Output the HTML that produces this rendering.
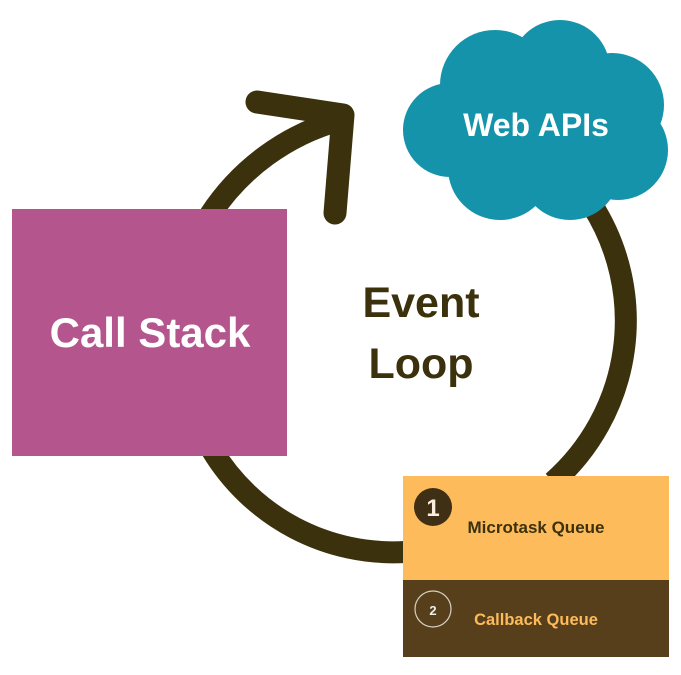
<!DOCTYPE html>
<html><head><style>
body{margin:0;width:681px;height:670px;background:#fff;overflow:hidden;font-family:"Liberation Sans",sans-serif}
</style></head><body>
<svg width="681" height="670" xmlns="http://www.w3.org/2000/svg">
<g fill="none" stroke="#3b310d" stroke-width="22">
<path d="M 340 120 A 228 228 0 0 0 210 215"/>
<path d="M 212 450 A 212 212 0 0 0 405 552"/>
<path d="M 592 205 A 215 215 0 0 1 553 482"/>
</g>
<path d="M 257 102 L 343 115 L 335 213" fill="none" stroke="#3b310d" stroke-width="23" stroke-linecap="round" stroke-linejoin="round"/>
<g fill="#1593aa">
<circle cx="495" cy="85" r="55"/>
<circle cx="560" cy="70" r="50"/>
<circle cx="612" cy="105" r="52"/>
<circle cx="450" cy="130" r="47"/>
<circle cx="618" cy="150" r="50"/>
<circle cx="500" cy="168" r="52"/>
<circle cx="570" cy="170" r="50"/>
<rect x="470" y="90" width="150" height="100"/>
</g>
<text x="536" y="136" text-anchor="middle" font-size="32" font-weight="bold" fill="#fff">Web APIs</text>
<rect x="12" y="209" width="275" height="247" fill="#b5558e"/>
<text x="150" y="347" text-anchor="middle" font-size="42" font-weight="bold" fill="#fff">Call Stack</text>
<text x="421" y="317" text-anchor="middle" font-size="43" font-weight="bold" fill="#3b310d">Event</text>
<text x="421" y="378" text-anchor="middle" font-size="43" font-weight="bold" fill="#3b310d">Loop</text>
<rect x="403" y="476" width="266" height="104" fill="#fdbb5b"/>
<rect x="403" y="580" width="266" height="77" fill="#573f1b"/>
<circle cx="433" cy="507" r="19" fill="#3f2f15"/>
<text x="433" y="516" text-anchor="middle" font-size="24" font-weight="bold" fill="#fbeedd">1</text>
<text x="536" y="533" text-anchor="middle" font-size="17" font-weight="bold" fill="#3b310d">Microtask Queue</text>
<circle cx="433" cy="609" r="18" fill="none" stroke="#d8d0c4" stroke-width="1.2"/>
<text x="433" y="615" text-anchor="middle" font-size="13" font-weight="bold" fill="#eee">2</text>
<text x="536" y="625" text-anchor="middle" font-size="16.5" font-weight="bold" fill="#fdbb5b">Callback Queue</text>
</svg>
</body></html>
